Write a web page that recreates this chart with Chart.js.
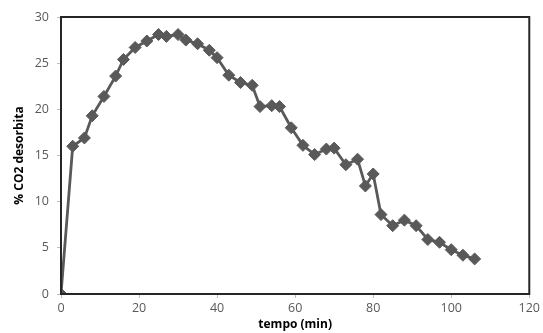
<!DOCTYPE html>
<html>
<head>
<meta charset="UTF-8">
<title>CO2 desorbita</title>
<script src="https://cdn.jsdelivr.net/npm/chart.js"></script>
<style>
html, body { margin: 0; padding: 0; background: #fff; }
</style>
</head>
<body>
<canvas id="myChart" width="543" height="333"></canvas>
<script>
// tempo (min) e % CO2 desorbita
const tempo = [0, 3, 6, 8, 11, 14, 16, 19, 22, 25, 27, 30, 32, 35, 38, 40, 43, 46, 49, 51,
               54, 56, 59, 62, 65, 68, 70, 73, 76, 78, 80, 82, 85, 88, 91, 94, 97, 100, 103, 106];
const co2 = [0, 16.0, 16.9, 19.3, 21.4, 23.6, 25.4, 26.7, 27.4, 28.1, 27.9, 28.1, 27.5, 27.1, 26.4, 25.6, 23.7, 22.9, 22.6, 20.3,
             20.4, 20.3, 18.0, 16.1, 15.1, 15.7, 15.8, 14.0, 14.6, 11.7, 13.0, 8.6, 7.4, 8.0, 7.4, 5.9, 5.6, 4.8, 4.2, 3.8];
const xTicks = [0, 20, 40, 60, 80, 100, 120];
const yTicks = [0, 5, 10, 15, 20, 25, 30];

const points = tempo.map((t, i) => ({ x: t, y: co2[i] }));

// cornice attorno all'area del grafico
const frame = {
  id: 'frame',
  afterDraw(chart) {
    const a = chart.chartArea;
    const ctx = chart.ctx;
    ctx.save();
    ctx.strokeStyle = '#262626';
    ctx.lineWidth = 2;
    ctx.strokeRect(a.left, a.top, a.right - a.left, a.bottom - a.top);
    ctx.restore();
  }
};

const ctx = document.getElementById('myChart').getContext('2d');
new Chart(ctx, {
  type: 'scatter',
  data: {
    datasets: [{
      data: points,
      showLine: true,
      borderColor: '#595959',
      backgroundColor: '#595959',
      borderWidth: 2.8,
      pointStyle: 'rectRot',
      pointRadius: 6,
      pointBorderWidth: 1,
      pointHoverRadius: 6
    }]
  },
  options: {
    responsive: false,
    animation: false,
    layout: { padding: { left: 0, right: 13, top: 17, bottom: 0 } },
    plugins: {
      legend: { display: false },
      tooltip: { enabled: false }
    },
    scales: {
      x: {
        type: 'linear',
        min: 0, max: 120,
        afterBuildTicks: s => { s.ticks = xTicks.map(v => ({ value: v })); },
        grid: { drawOnChartArea: false, drawTicks: true, tickLength: 4, color: '#bfbfbf' },
        border: { color: '#262626', width: 2 },
        ticks: { color: '#595959', font: { family: 'Open Sans', size: 12.5 }, padding: 3, maxRotation: 0 },
        title: { display: true, text: 'tempo (min)', color: '#000',
                 font: { family: 'Open Sans', size: 12, weight: 'bold' }, padding: { top: -4, bottom: 1 } },
        afterFit: s => { s.height = 39; }
      },
      y: {
        min: 0, max: 30,
        afterBuildTicks: s => { s.ticks = yTicks.map(v => ({ value: v })); },
        grid: { drawOnChartArea: false, drawTicks: true, tickLength: 4, color: '#bfbfbf' },
        border: { color: '#262626', width: 2 },
        ticks: { color: '#595959', font: { family: 'Open Sans', size: 12.5 }, padding: 8 },
        title: { display: true, text: '% CO2 desorbita', color: '#000',
                 font: { family: 'Open Sans', size: 12, weight: 'bold' }, padding: { top: 12, bottom: 0 } },
        afterFit: s => { s.width = 61; }
      }
    }
  },
  plugins: [frame]
});
</script>
</body>
</html>
